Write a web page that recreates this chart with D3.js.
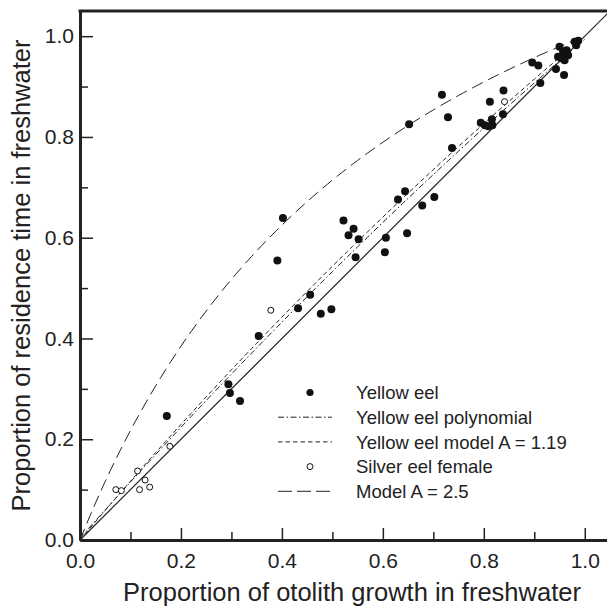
<!DOCTYPE html>
<html>
<head>
<meta charset="utf-8">
<script src="https://cdn.jsdelivr.net/npm/d3@7"></script>
<style>
	body { margin: 0; background: #fff; }
	svg { font-family: "Liberation Sans", Arial, Helvetica, sans-serif; }
	.axis text { font-size: 21px; fill: #222; }
	.axis path, .axis line { stroke: #222; }
</style>
</head>
<body>
<div id="chart-area"></div>
<script>

// Data
let yellowX = [0.172, 0.294, 0.297, 0.317, 0.354, 0.391, 0.402, 0.432, 0.456, 0.477,
	0.498, 0.522, 0.532, 0.542, 0.546, 0.552, 0.604, 0.606, 0.630, 0.644,
	0.648, 0.652, 0.678, 0.702, 0.717, 0.729, 0.737, 0.794, 0.802, 0.809,
	0.812, 0.816, 0.817, 0.838, 0.839, 0.896, 0.908, 0.912, 0.943, 0.947,
	0.950, 0.954, 0.957, 0.959, 0.960, 0.964, 0.967, 0.980, 0.983, 0.987];
let yellowY = [0.246, 0.309, 0.292, 0.276, 0.405, 0.555, 0.639, 0.460, 0.487, 0.449,
	0.458, 0.634, 0.605, 0.618, 0.561, 0.597, 0.571, 0.600, 0.676, 0.692,
	0.609, 0.825, 0.664, 0.681, 0.884, 0.839, 0.778, 0.828, 0.823, 0.821,
	0.870, 0.835, 0.823, 0.845, 0.892, 0.948, 0.942, 0.907, 0.935, 0.959,
	0.979, 0.956, 0.969, 0.923, 0.952, 0.972, 0.962, 0.989, 0.982, 0.991];

let silverX = [0.071, 0.082, 0.114, 0.118, 0.129, 0.138, 0.178, 0.378, 0.841];
let silverY = [0.100, 0.098, 0.137, 0.100, 0.119, 0.105, 0.186, 0.456, 0.870];

// model curves y = A x / (1 + (A - 1) x)
let modelA = [1.19, 2.5];
// polynomial y = c0 + c1 x + c2 x^2
let polyCoef = [0.004, 1.125, -0.135];
let curveX = d3.range(0, 1.0001, 0.01);

let majorTicks = [0, 0.2, 0.4, 0.6, 0.8, 1.0];
let minorTicks = [0.1, 0.3, 0.5, 0.7, 0.9];

let legendLabels = ["Yellow eel", "Yellow eel polynomial", "Yellow eel model A = 1.19",
	"Silver eel female", "Model A = 2.5"];
let legendKinds = ["dot", "dashdot", "dash", "circle", "longdash"];

// SVG Size
let width = 607,
	height = 610;

let svg = d3.select("#chart-area")
	.append("svg")
	.attr("width", width)
	.attr("height", height);

let xScale = d3.scaleLinear().domain([0, 1.05]).range([80, 610]);
let yScale = d3.scaleLinear().domain([0, 1.05]).range([540, 11]);

let dashes = {
	solid: null,
	dashdot: "6,2.5,1.5,2.5",
	dash: "4.5,3",
	longdash: "12,6"
};

let line = d3.line()
	.x(d => xScale(d[0]))
	.y(d => yScale(d[1]));

// 1:1 line
svg.append("path")
	.attr("d", line([[0, 0], [1.05, 1.05]]))
	.attr("fill", "none")
	.attr("stroke", "#222")
	.attr("stroke-width", 1.2);

// polynomial
svg.append("path")
	.attr("d", line(curveX.map(x => [x, polyCoef[0] + polyCoef[1] * x + polyCoef[2] * x * x])))
	.attr("fill", "none")
	.attr("stroke", "#222")
	.attr("stroke-width", 1)
	.attr("stroke-dasharray", dashes.dashdot);

// models
modelA.forEach((A, i) => {
	svg.append("path")
		.attr("d", line(curveX.map(x => [x, A * x / (1 + (A - 1) * x)])))
		.attr("fill", "none")
		.attr("stroke", "#222")
		.attr("stroke-width", 1)
		.attr("stroke-dasharray", i == 0 ? dashes.dash : dashes.longdash);
});

// points
svg.selectAll("circle.yellow")
	.data(d3.zip(yellowX, yellowY))
	.enter()
	.append("circle")
	.attr("class", "yellow")
	.attr("cx", d => xScale(d[0]))
	.attr("cy", d => yScale(d[1]))
	.attr("r", 4)
	.attr("fill", "#111");

svg.selectAll("circle.silver")
	.data(d3.zip(silverX, silverY))
	.enter()
	.append("circle")
	.attr("class", "silver")
	.attr("cx", d => xScale(d[0]))
	.attr("cy", d => yScale(d[1]))
	.attr("r", 3)
	.attr("fill", "#fff")
	.attr("stroke", "#111")
	.attr("stroke-width", 1);

// axes
let fmt = d3.format(".1f");

let xAxis = d3.axisBottom(xScale)
	.tickValues(majorTicks)
	.tickFormat(fmt)
	.tickSizeInner(-12)
	.tickSizeOuter(0)
	.tickPadding(13);
let xMinor = d3.axisBottom(xScale)
	.tickValues(minorTicks)
	.tickFormat("")
	.tickSizeInner(-8)
	.tickSizeOuter(0);

let yAxis = d3.axisLeft(yScale)
	.tickValues(majorTicks)
	.tickFormat(fmt)
	.tickSizeInner(-13)
	.tickSizeOuter(0)
	.tickPadding(6);
let yMinor = d3.axisLeft(yScale)
	.tickValues(minorTicks)
	.tickFormat("")
	.tickSizeInner(-8)
	.tickSizeOuter(0);

[[xMinor, "x"], [xAxis, "x"], [yMinor, "y"], [yAxis, "y"]].forEach(a => {
	let g = svg.append("g")
		.attr("class", "axis")
		.attr("transform", a[1] == "x" ? "translate(0,540)" : "translate(80,0)")
		.call(a[0]);
	g.selectAll(".tick line").attr("stroke-width", 1.5);
	g.select(".domain").attr("stroke-width", 3);
	g.selectAll("text").attr("fill", "#222");
});
svg.selectAll(".axis text").style("font-size", "21px");

// top frame line
svg.append("line")
	.attr("x1", xScale(0) - 1.5)
	.attr("x2", xScale(1.05))
	.attr("y1", yScale(1.05))
	.attr("y2", yScale(1.05))
	.attr("stroke", "#222")
	.attr("stroke-width", 3);

// axis titles
svg.append("text")
	.text("Proportion of otolith growth in freshwater")
	.attr("x", 352)
	.attr("y", 601)
	.attr("text-anchor", "middle")
	.attr("font-size", "25.5px")
	.attr("fill", "#222");
svg.append("text")
	.text("Proportion of residence time in freshwater")
	.attr("transform", "translate(30," + ((yScale(0) + yScale(1.05)) / 2) + ") rotate(-90)")
	.attr("text-anchor", "middle")
	.attr("font-size", "25.5px")
	.attr("fill", "#222");

// legend
let legend = svg.append("g").attr("transform", "translate(0,392.5)");
legendLabels.forEach((label, i) => {
	let row = legend.append("g").attr("transform", "translate(0," + (i * 24.7) + ")");
	let kind = legendKinds[i];
	if (kind == "dot") {
		row.append("circle").attr("cx", 310).attr("cy", 0).attr("r", 3.6).attr("fill", "#111");
	} else if (kind == "circle") {
		row.append("circle").attr("cx", 310).attr("cy", 0).attr("r", 3)
			.attr("fill", "#fff").attr("stroke", "#111").attr("stroke-width", 1);
	} else {
		row.append("line")
			.attr("x1", 278).attr("x2", 332)
			.attr("y1", 0).attr("y2", 0)
			.attr("stroke", "#222")
			.attr("stroke-width", 1)
			.attr("stroke-dasharray", dashes[kind] == null ? null : (kind == "longdash" ? "14,5" : dashes[kind]));
	}
	row.append("text")
		.text(label)
		.attr("x", 356)
		.attr("y", 6.6)
		.attr("font-size", "18.5px")
		.attr("fill", "#222");
});

</script>
</body>
</html>
